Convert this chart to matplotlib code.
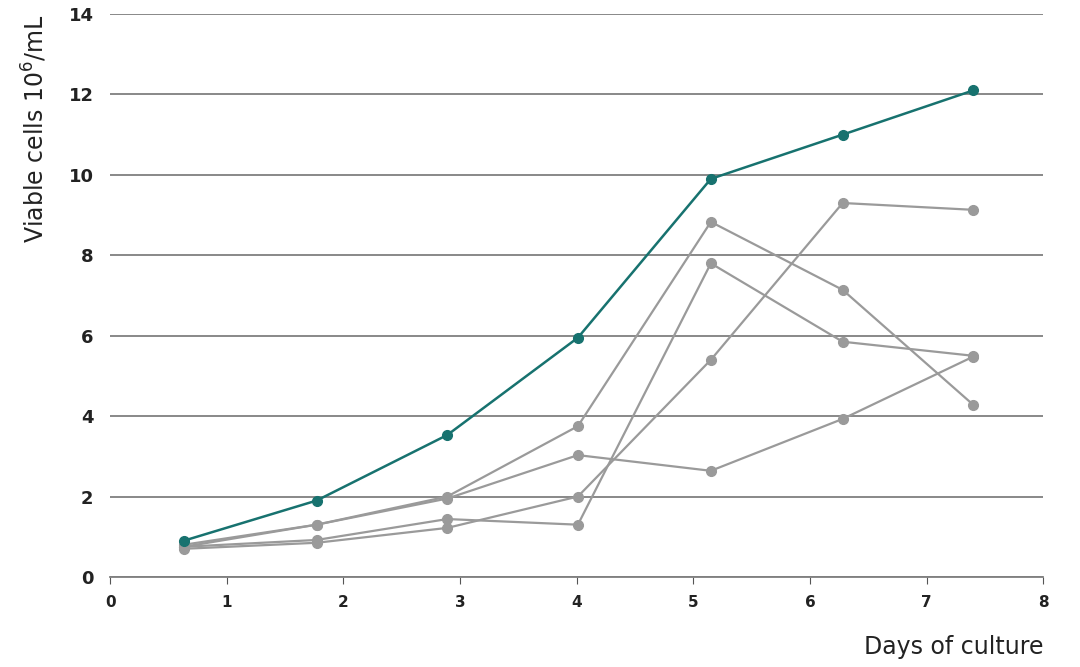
import matplotlib.pyplot as plt

days = [0.63, 1.77, 2.89, 4.01, 5.15, 6.28, 7.40]
main = [0.9, 1.9, 3.53, 5.95, 9.9, 11.0, 12.1]
ctrl_a = [0.75, 1.3, 2.0, 3.75, 8.83, 7.14, 4.28]
ctrl_b = [0.8, 1.3, 1.95, 3.03, 2.64, 3.93, 5.48]
ctrl_c = [0.7, 0.85, 1.22, 2.0, 5.4, 9.3, 9.13]
ctrl_d = [0.75, 0.92, 1.44, 1.3, 7.8, 5.85, 5.5]

xticks = [0, 1, 2, 3, 4, 5, 6, 7, 8]
yticks = [0, 2, 4, 6, 8, 10, 12, 14]

fnt = ['Liberation Sans Narrow', 'DejaVu Sans']
plt.rcParams['font.family'] = fnt

fig = plt.figure(figsize=(10.8, 6.67), dpi=100)
ax = fig.add_axes([0.102, 0.135, 0.864, 0.844])

gray = '#9a9a9a'
teal = '#17726f'
for s in [ctrl_a, ctrl_b, ctrl_c, ctrl_d]:
    ax.plot(days, s, color=gray, lw=1.6, marker='o', ms=7, zorder=3)
ax.plot(days, main, color=teal, lw=1.8, marker='o', ms=7, zorder=4)

ax.set_xlim(0, 8)
ax.set_ylim(0, 14)
ax.set_xticks(xticks)
ax.set_yticks(yticks)
ax.yaxis.grid(True, color='#7f7f7f', lw=1.3)
ax.set_axisbelow(True)
for sp in ['top', 'right', 'left']:
    ax.spines[sp].set_visible(False)
ax.spines['bottom'].set_color('#7f7f7f')
ax.spines['bottom'].set_linewidth(1.3)
ax.tick_params(axis='y', length=0, pad=12, labelsize=13, labelcolor='#222222')
ax.tick_params(axis='x', length=5, color='#555555', pad=8, labelsize=11, labelcolor='#222222')
for t in ax.get_yticklabels() + ax.get_xticklabels():
    t.set_fontweight('bold')

ax.set_ylabel('Viable cells 10$^6$/mL', loc='top', fontsize=17, color='#222222', labelpad=14)
ax.set_xlabel('Days of culture', loc='right', fontsize=17, color='#222222', labelpad=18)

fig.savefig('out.png', dpi=100)
